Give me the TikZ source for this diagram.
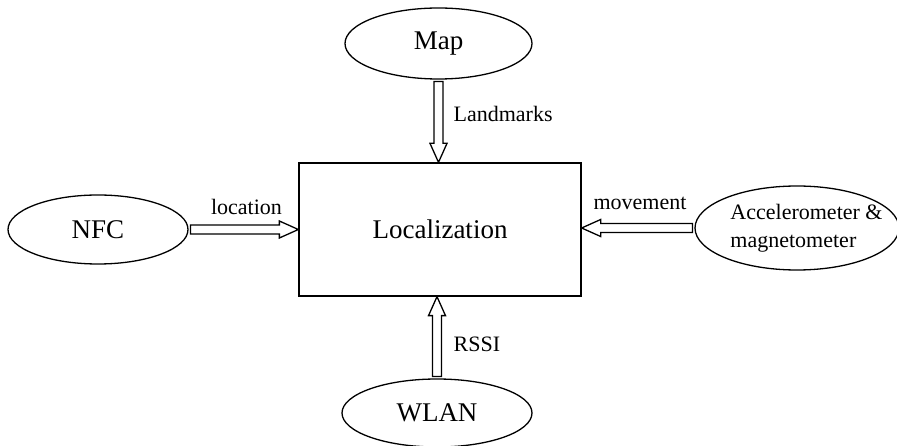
\documentclass[tikz,border=0pt]{standalone}
\usepackage{fontspec}
\setmainfont{Liberation Serif}
\usetikzlibrary{shapes.geometric, calc, positioning}
\tikzset{every picture/.append style={line width=1.3pt}}
\tikzset{
  source/.style={draw, ellipse, inner sep=0pt, outer sep=2.5pt, font=\fontsize{27}{32}\selectfont},
  block/.style={draw, rectangle, inner sep=0pt, minimum width=282pt, minimum height=133pt, font=\fontsize{27}{32}\selectfont},
  flowlabel/.style={inner sep=0pt, font=\fontsize{22}{26}\selectfont},
  % hollow block arrow from start to target
  blockarrow/.style={to path={
    ($(\tikztostart)!4.5pt!90:(\tikztotarget)$)
    -- ($($(\tikztotarget)!19pt!(\tikztostart)$)!4.5pt!-90:(\tikztostart)$)
    -- ($($(\tikztotarget)!19pt!(\tikztostart)$)!8.5pt!-90:(\tikztostart)$)
    -- (\tikztotarget)
    -- ($($(\tikztotarget)!19pt!(\tikztostart)$)!8.5pt!90:(\tikztostart)$)
    -- ($($(\tikztotarget)!19pt!(\tikztostart)$)!4.5pt!90:(\tikztostart)$)
    -- ($(\tikztostart)!4.5pt!-90:(\tikztotarget)$) -- cycle
  }}
}

\begin{document}
\begin{tikzpicture}[x=1pt, y=-1pt]
        \useasboundingbox (0,0) rectangle (897,446);

        % Localization block
        \node[block] (loc) at (440,229.5) {Localization};

        % Sources
        \node[source, minimum width=187pt, minimum height=71pt] (map) at (438.5,43.5) {Map};
        \node[source, minimum width=180pt, minimum height=69pt] (nfc) at (98,229.5) {NFC};
        \node[source, minimum width=204pt, minimum height=84pt] (acc) at (797,228) {};
        \node[flowlabel, align=left, font=\fontsize{22}{28}\selectfont] (acctext) at (806.5,228.6) {Accelerometer \&\\magnetometer};
        \node[source, minimum width=190pt, minimum height=68pt] (wlan) at (437,413) {WLAN};

        % Hollow arrows
        \draw[blockarrow] (map.south) to (map.south |- loc.north);
        \draw[blockarrow] (nfc.east) to (nfc.east -| loc.west);
        \draw[blockarrow] (acc.west) to (acc.west -| loc.east);
        \draw[blockarrow] (wlan.north) to (wlan.north |- loc.south);

        % Arrow labels
        \node[flowlabel, anchor=base west] (landmarks) at (453,122) {Landmarks};
        \node[flowlabel, anchor=base] (location) at (246.5,215) {location};
        \node[flowlabel, anchor=base] (movement) at (640,210) {movement};
        \node[flowlabel, anchor=base west] (rssi) at (453,352) {RSSI};
    \end{tikzpicture}
\end{document}
